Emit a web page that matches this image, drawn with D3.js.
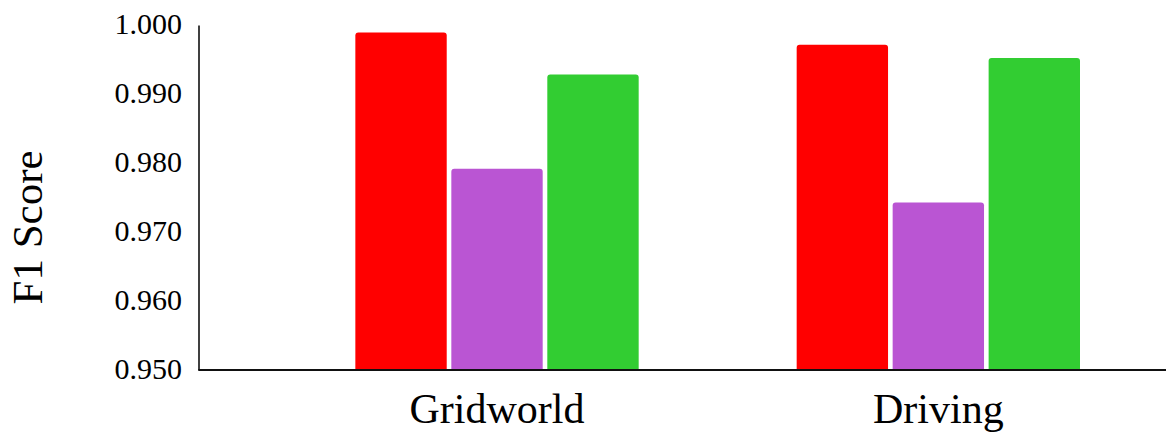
<!DOCTYPE html>
<html>
<head>
<meta charset="utf-8">
<script src="https://cdn.jsdelivr.net/npm/d3@7"></script>
<style>
  html, body { margin: 0; padding: 0; background: #fff; }
  svg { display: block; }
  text { font-family: "Liberation Serif", "Times New Roman", serif; fill: #000; }
</style>
</head>
<body>
<svg id="chart" width="1166" height="433"></svg>
<script>
// Environments on the x axis
const categories = ["Gridworld", "Driving"];
// Three methods, one bar per environment each
const seriesNames = ["A", "B", "C"];
const seriesColors = ["#ff0000", "#ba55d3", "#32cd32"];
const seriesValues = [
  [0.9990, 0.9972],   // red
  [0.9792, 0.9743],   // purple
  [0.9929, 0.9953]    // green
];
const yTicks = [0.950, 0.960, 0.970, 0.980, 0.990, 1.000];

const svg = d3.select("#chart");
const W = 1166, H = 433;
const axisLeft = 199, axisBottom = 370, axisTop = 25.5;

const y = d3.scaleLinear().domain([0.95, 1.0]).range([axisBottom, axisTop]);

const x0 = d3.scaleBand()
  .domain(categories)
  .range([276.35, 1159])
  .paddingInner(0.358)
  .paddingOuter(0.179);

const x1 = d3.scaleBand()
  .domain(seriesNames)
  .range([0, x0.bandwidth()])
  .paddingInner(0.048)
  .paddingOuter(0);

// Bars
const groups = svg.append("g").selectAll("g")
  .data(categories)
  .join("g")
  .attr("transform", d => `translate(${x0(d)},0)`);

groups.selectAll("rect")
  .data((c, ci) => seriesNames.map((s, si) => ({ s, v: seriesValues[si][ci], color: seriesColors[si] })))
  .join("rect")
  .attr("x", d => x1(d.s))
  .attr("width", x1.bandwidth())
  .attr("y", d => y(d.v))
  .attr("height", d => axisBottom - y(d.v) + 3)
  .attr("rx", 3)
  .attr("fill", d => d.color);

// Cover the rounded bottoms below the baseline
svg.append("rect")
  .attr("x", axisLeft).attr("y", axisBottom + 1)
  .attr("width", W - axisLeft).attr("height", 6)
  .attr("fill", "#fff");

// Y axis
const yAxis = d3.axisLeft(y)
  .tickValues(yTicks)
  .tickFormat(d3.format(".3f"))
  .tickSize(0)
  .tickPadding(17);

const gy = svg.append("g")
  .attr("transform", `translate(${axisLeft},0)`)
  .call(yAxis);
gy.select(".domain").remove();
gy.selectAll("text")
  .attr("font-size", 30)
  .attr("dy", "0.28em")
  .style("font-family", "'Liberation Serif', serif");

svg.append("line")
  .attr("x1", axisLeft).attr("x2", axisLeft)
  .attr("y1", axisTop).attr("y2", axisBottom)
  .attr("stroke", "#000").attr("stroke-width", 1.5);

// X axis
const xAxis = d3.axisBottom(x0).tickSize(0).tickPadding(23);
const gx = svg.append("g")
  .attr("transform", `translate(0,${axisBottom})`)
  .call(xAxis);
gx.select(".domain").remove();
gx.selectAll("text")
  .attr("font-size", 42)
  .attr("dy", "0.71em")
  .style("font-family", "'Liberation Serif', serif");

svg.append("line")
  .attr("x1", axisLeft - 0.75).attr("x2", W)
  .attr("y1", axisBottom).attr("y2", axisBottom)
  .attr("stroke", "#111").attr("stroke-width", 2);

// Y axis title
svg.append("text")
  .attr("transform", `translate(42,227.5) rotate(-90)`)
  .attr("text-anchor", "middle")
  .attr("font-size", 43)
  .text("F1 Score");
</script>
</body>
</html>
